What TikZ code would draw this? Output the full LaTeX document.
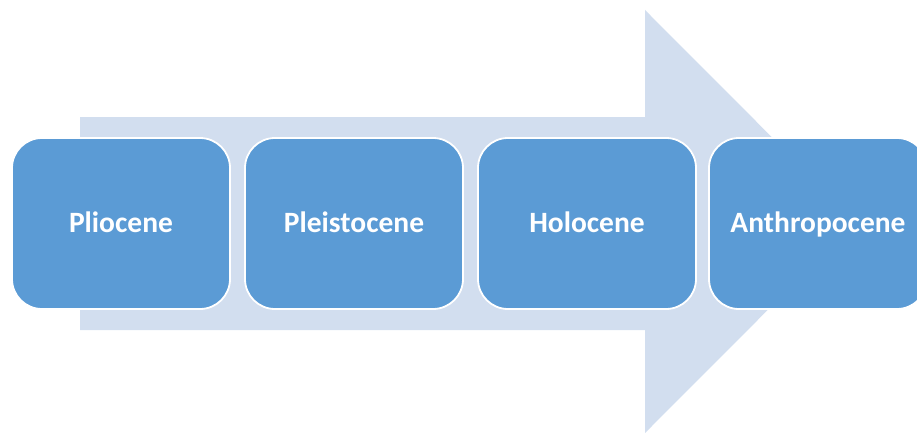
\documentclass[tikz,border=0pt]{standalone}
\usepackage{fontspec}
\setmainfont{Carlito}
\usepackage{tikz}
\definecolor{epochblue}{HTML}{5B9BD5}
\definecolor{arrowpale}{HTML}{D2DEEF}

\begin{document}
\begin{tikzpicture}[x=1pt,y=-1pt]
\tikzstyle{every node}=[minimum width=218pt, minimum height=171pt, inner sep=1pt,
  rounded corners=30pt, draw=white, line width=1.8pt, fill=epochblue,
  text=white, text height=22pt, text depth=4pt,
  font=\fontsize{29.5}{33}\selectfont\bfseries]
\useasboundingbox (0,0) rectangle (917,433);
\clip (0,0) rectangle (917,433);
\fill[arrowpale] (80,117) -- (645,117) -- (645,10) -- (856,221.5)
  -- (645,433) -- (645,330) -- (80,330) -- cycle;
\draw (121,223.5) node (p1) {Pliocene};
\draw (354,223.5) node (p2) {Pleistocene};
\draw (587,223.5) node (p3) {Holocene};
\draw (818,223.5) node (p4) {Anthropocene};
\end{tikzpicture}
\end{document}
